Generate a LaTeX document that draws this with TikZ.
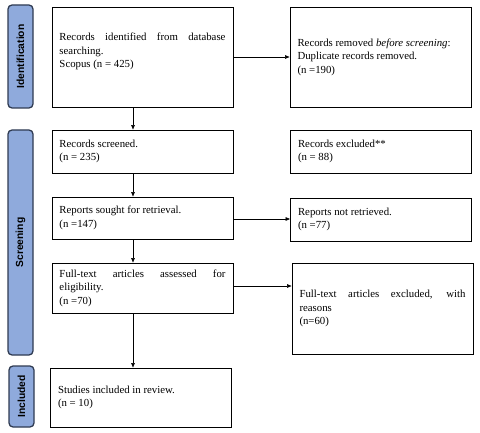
\documentclass[tikz,border=0pt]{standalone}
\usepackage{fontspec}
\setmainfont{Liberation Serif}
\setsansfont{Liberation Sans}
\usetikzlibrary{arrows.meta,positioning}

\definecolor{sidefill}{HTML}{8FAADC}
\definecolor{sidedraw}{HTML}{2F3B52}
\hyphenpenalty=10000
\exhyphenpenalty=10000
\tolerance=10000

\begin{document}
\begin{tikzpicture}[
  x=1pt, y=1pt, >={Triangle[length=4.5pt,width=3.6pt]},
  font=\fontsize{10.8}{13.5}\selectfont,
  bx/.style={draw, line width=0.9pt, text width=166pt, inner xsep=7.5pt,
             minimum width=181pt, align=justify},
  side/.style={draw=sidedraw, fill=sidefill, line width=1.3pt, rounded corners=4pt,
               minimum width=25pt},
  sidetxt/.style={rotate=90, font=\sffamily\bfseries\fontsize{10.3}{12}\selectfont},
  lnk/.style={->, line width=0.6pt},
]
  \useasboundingbox (0,0) rectangle (480,-433);

  % phase labels
  \node[side, minimum height=103pt] (sid) at (20.5,-56.5) {};
  \node[sidetxt] at (sid) {Identification};
  \node[side, minimum height=225pt] (sscr) at (20.5,-242.5) {};
  \node[sidetxt] at (sscr) {Screening};
  \node[side, minimum height=61pt] (sinc) at (21.5,-396.5) {};
  \node[sidetxt] at (sinc) {Included};

  % left column
  \node[bx, minimum height=100pt] (ident) at (142.5,-57)
    {Records identified from database searching.\\Scopus (n = 425)\\\mbox{}};
  \node[bx, minimum height=43pt] (scr) at (142.5,-151.5)
    {Records screened.\\(n = 235)};
  \node[bx, minimum height=42pt] (sought) at (142.5,-218)
    {Reports sought for retrieval.\\(n =147)};
  \node[bx, minimum height=50pt] (elig) at (142.5,-288)
    {Full-text articles assessed for eligibility.\\(n =70)};
  \node[bx, minimum height=59pt] (incl) at (141,-397.5)
    {Studies included in review.\\(n = 10)};

  % right column
  \node[bx, minimum height=100pt] (dup) at (380.5,-57)
    {Records removed \textit{before screening}:\\Duplicate records removed.\\(n =190)};
  \node[bx, minimum height=43pt] (rexc) at (381,-151.5)
    {Records excluded**\\(n = 88)};
  \node[bx, minimum height=43pt] (notret) at (381,-219.5)
    {Reports not retrieved.\\(n =77)};
  \node[bx, minimum height=91pt] (ftexc) at (382.5,-308.5)
    {Full-text articles excluded, with reasons\\(n=60)};

  \coordinate (ax) at (133,0);

  \draw[lnk] (ident.south -| ax) -- (scr.north -| ax);
  \draw[lnk] (scr.south -| ax) -- (sought.north -| ax);
  \draw[lnk] (sought.south -| ax) -- (elig.north -| ax);
  \draw[lnk] (elig.south -| ax) -- (incl.north -| ax);

  \draw[lnk] (ident.east) -- (dup.west);
  \draw[lnk] ([yshift=-1pt]sought.east) -- ([yshift=-1pt]sought.east -| notret.west);
  \draw[lnk] ([yshift=2pt]elig.east) -- ([yshift=2pt]elig.east -| ftexc.west);
\end{tikzpicture}
\end{document}
